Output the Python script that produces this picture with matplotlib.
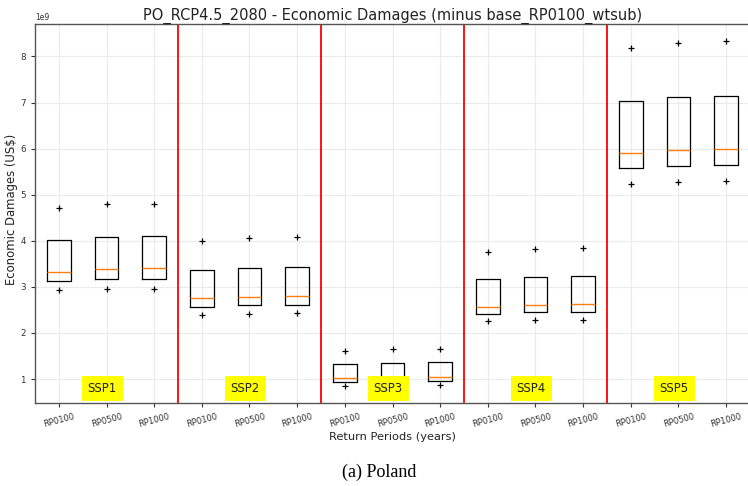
import matplotlib
matplotlib.use("Agg")
import matplotlib.pyplot as plt

# ---- data (values in 1e9 US$) ----
scenarios = ["SSP1", "SSP2", "SSP3", "SSP4", "SSP5"]
return_periods = ["RP0100", "RP0500", "RP1000"]

q1 = [3.13, 3.17, 3.18, 2.57, 2.61, 2.61, 0.935, 0.95, 0.96, 2.41, 2.45, 2.45, 5.58, 5.63, 5.65]
med = [3.32, 3.38, 3.40, 2.75, 2.78, 2.80, 1.02, 1.04, 1.04, 2.57, 2.61, 2.63, 5.90, 5.96, 6.00]
q3 = [4.02, 4.08, 4.10, 3.36, 3.41, 3.43, 1.33, 1.34, 1.36, 3.17, 3.22, 3.23, 7.03, 7.13, 7.15]
flier_low = [2.94, 2.95, 2.95, 2.39, 2.42, 2.43, 0.855, 0.86, 0.87, 2.26, 2.28, 2.28, 5.24, 5.27, 5.29]
flier_high = [4.71, 4.79, 4.80, 4.00, 4.07, 4.08, 1.62, 1.66, 1.66, 3.76, 3.83, 3.84, 8.18, 8.30, 8.33]

scale = 1e9

fig = plt.figure(figsize=(7.48, 4.86), dpi=100)
ax = fig.add_axes([35/748, 1-403/486, (750-35)/748, (403-24)/486])

stats = []
labels = []
for i in range(len(q1)):
    stats.append(dict(
        med=med[i]*scale, q1=q1[i]*scale, q3=q3[i]*scale,
        whislo=q1[i]*scale, whishi=q3[i]*scale,
        fliers=[flier_low[i]*scale, flier_high[i]*scale],
    ))
    labels.append(return_periods[i % 3])

positions = list(range(1, len(stats)+1))
ax.bxp(stats, positions=positions, widths=0.5, showcaps=False,
       boxprops=dict(color="black", linewidth=0.9),
       whiskerprops=dict(linewidth=0),
       medianprops=dict(color="#ff7f0e", linewidth=1.0),
       flierprops=dict(marker="+", markeredgecolor="black", markersize=5, markeredgewidth=0.9))

ax.set_xlim(0.5, 15.5)
ax.set_xticks(positions)
ax.set_xticklabels(labels, rotation=15, fontsize=6, color="#333333")
ax.tick_params(axis="y", labelsize=6.3, colors="#333333", length=3)
ax.tick_params(axis="x", length=3, colors="#333333")
ax.yaxis.get_offset_text().set_fontsize(5.5)
ax.yaxis.get_offset_text().set_color("#333333")

ax.grid(True, color="#ebebeb", linewidth=0.8)
ax.set_axisbelow(True)
for s in ["left", "bottom", "top"]:
    ax.spines[s].set_color("#555555")
    ax.spines[s].set_linewidth(1.0)
ax.spines["right"].set_visible(False)

for k in range(1, len(scenarios)):
    ax.axvline(3*k + 0.5, color="red", linewidth=1.3)

for k, name in enumerate(scenarios):
    ax.text(3*k + 2 - 0.09, 0.80*scale, name, ha="center", va="center", fontsize=8.5,
            color="#222222",
            bbox=dict(facecolor="yellow", edgecolor="none", pad=4.3), zorder=5)

ax.set_title("PO_RCP4.5_2080 - Economic Damages (minus base_RP0100_wtsub)",
             fontsize=10.5, pad=3, color="#222222")
ax.set_ylabel("Economic Damages (US$)", fontsize=8.4, color="#222222")
ax.yaxis.set_label_coords(-0.0235, 0.51)
ax.set_xlabel("Return Periods (years)", fontsize=8.2, labelpad=2, color="#222222")

fig.text(379/748, 1-472/486, "(a) Poland", ha="center", va="center",
         fontsize=13, family=["Liberation Serif", "DejaVu Serif"])

fig.savefig("out.png", dpi=100)
